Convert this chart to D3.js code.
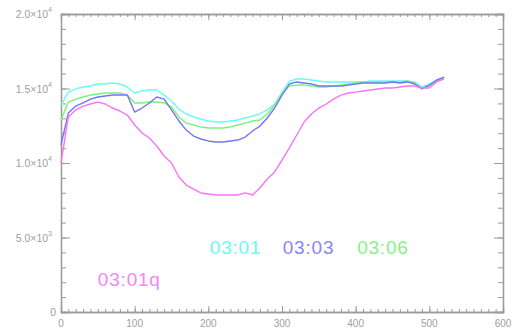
<!DOCTYPE html>
<html>
<head>
<meta charset="utf-8">
<script src="https://cdn.jsdelivr.net/npm/d3@7"></script>
<style>
  html, body { margin: 0; padding: 0; background: #fff; }
  svg { display: block; }
  text { font-family: "Liberation Sans", "DejaVu Sans", sans-serif; }
</style>
</head>
<body>
<div id="chart"></div>
<script>
// sample positions shared by every curve
const xs = [0, 10, 20, 30, 40, 50, 60, 70, 80, 90, 100, 110, 120, 130, 140, 150, 160, 170, 180, 190,
  200, 210, 220, 230, 240, 250, 260, 270, 280, 290, 300, 310, 320, 330, 340, 350, 360, 370, 380, 390,
  400, 410, 420, 430, 440, 450, 460, 470, 480, 490, 500, 510, 520];

const cyan0301 = [13890, 14760, 14970, 15100, 15170, 15300, 15300, 15370, 15300, 15100,
  14700, 14830, 14900, 14900, 14560, 14160, 13620, 13290, 13090, 12950,
  12820, 12750, 12750, 12820, 12890, 13020, 13150, 13290, 13560, 13960,
  14760, 15500, 15640, 15640, 15570, 15500, 15440, 15440, 15440, 15440,
  15440, 15440, 15500, 15500, 15500, 15500, 15500, 15500, 15440, 15100,
  15300, 15570, 15700];

const blue0303 = [11210, 13360, 13820, 14030, 14290, 14430, 14500, 14560, 14560, 14560,
  13420, 13690, 14030, 14430, 14290, 13560, 12820, 12210, 11810, 11610,
  11480, 11410, 11410, 11480, 11540, 11740, 12150, 12480, 13020, 13690,
  14560, 15300, 15440, 15370, 15300, 15170, 15170, 15170, 15170, 15230,
  15300, 15370, 15370, 15370, 15370, 15440, 15370, 15440, 15300, 14970,
  15230, 15570, 15770];

const green0306 = [12890, 14090, 14290, 14430, 14560, 14630, 14700, 14700, 14700, 14560,
  14030, 14030, 14090, 14090, 14030, 13760, 13090, 12680, 12550, 12420,
  12350, 12350, 12350, 12420, 12550, 12680, 12820, 12890, 13290, 13890,
  14630, 15170, 15230, 15230, 15170, 15100, 15100, 15170, 15230, 15300,
  15370, 15440, 15440, 15440, 15440, 15440, 15440, 15500, 15370, 15030,
  15170, 15500, 15640];

const magenta0301q = [10000, 13090, 13560, 13820, 13960, 14090, 13960, 13690, 13490, 13220,
  12550, 12010, 11680, 11140, 10470, 10000, 9060, 8520, 8250, 7990,
  7920, 7850, 7850, 7850, 7850, 7990, 7850, 8320, 8930, 9400,
  10200, 11010, 11880, 12750, 13290, 13690, 13960, 14290, 14560, 14700,
  14760, 14830, 14900, 14970, 15030, 15030, 15100, 15170, 15170, 15030,
  15030, 15440, 15640];

const seriesColors = ["#6af8f8", "#78f278", "#7474f6", "#f674f6"];
const seriesValues = [cyan0301, green0306, blue0303, magenta0301q];

const xTickValues = [0, 100, 200, 300, 400, 500, 600];
const yTickValues = [0, 5000, 10000, 15000, 20000];
const yTickMantissa = ["0", "5.0", "1.0", "1.5", "2.0"];
const yTickExponent = ["", "3", "4", "4", "4"];

// run labels, placed at data coords of their left baseline
const labelText = ["03:01", "03:03", "03:06", "03:01q"];
const labelColor = ["#6af8f8", "#8585f6", "#85f285", "#f685f6"];
const labelX = [202, 301, 402, 50];
const labelY = [3920, 3920, 3920, 1750];

const W = 512, H = 331;
const margin = { top: 14, right: 9, bottom: 19, left: 61 };
const width = W - margin.left - margin.right;
const height = H - margin.top - margin.bottom;
const axisColor = "#9a9a9a";

const svg = d3.select("#chart").append("svg")
  .attr("width", W)
  .attr("height", H);

const g = svg.append("g")
  .attr("transform", `translate(${margin.left},${margin.top})`);

const x = d3.scaleLinear().domain([0, 600]).range([0, width]);
const y = d3.scaleLinear().domain([0, 20000]).range([height, 0]);

// frame ticks: majors + minors on all four sides, pointing inward
const xMinor = x.ticks(60);
const yMinor = y.ticks(20);

function styleAxis(sel) {
  sel.select(".domain").attr("stroke", axisColor).attr("stroke-width", 1.3);
  sel.selectAll(".tick line").attr("stroke", axisColor);
}

// minor ticks
g.append("g").attr("transform", `translate(0,${height})`)
  .call(d3.axisTop(x).tickValues(xMinor).tickSize(3).tickFormat(""))
  .call(styleAxis);
g.append("g")
  .call(d3.axisBottom(x).tickValues(xMinor).tickSize(3).tickFormat(""))
  .call(styleAxis);
g.append("g")
  .call(d3.axisRight(y).tickValues(yMinor).tickSize(5).tickFormat(""))
  .call(styleAxis);
g.append("g").attr("transform", `translate(${width},0)`)
  .call(d3.axisLeft(y).tickValues(yMinor).tickSize(5).tickFormat(""))
  .call(styleAxis);

// major ticks
g.append("g").attr("transform", `translate(0,${height})`)
  .call(d3.axisTop(x).tickValues(xTickValues).tickSize(6).tickFormat(""))
  .call(styleAxis);
g.append("g")
  .call(d3.axisBottom(x).tickValues(xTickValues).tickSize(6).tickFormat(""))
  .call(styleAxis);
g.append("g")
  .call(d3.axisRight(y).tickValues(yTickValues).tickSize(9).tickFormat(""))
  .call(styleAxis);
g.append("g").attr("transform", `translate(${width},0)`)
  .call(d3.axisLeft(y).tickValues(yTickValues).tickSize(9).tickFormat(""))
  .call(styleAxis);

// x tick labels
g.selectAll(".xlab").data(xTickValues).enter().append("text")
  .attr("class", "xlab")
  .attr("x", d => x(d))
  .attr("y", height + 15)
  .attr("text-anchor", "middle")
  .attr("font-size", 10)
  .attr("fill", "#a0a0a0")
  .text(d => d);

// y tick labels like 1.5×10⁴
const ylab = g.selectAll(".ylab").data(yTickValues).enter().append("text")
  .attr("class", "ylab")
  .attr("x", (d, i) => yTickExponent[i] ? -9 : -5)
  .attr("y", d => y(d) + 4)
  .attr("text-anchor", "end")
  .attr("font-size", 10.5)
  .attr("fill", "#a0a0a0");
ylab.append("tspan").text((d, i) => yTickExponent[i] ? yTickMantissa[i] + "×10" : yTickMantissa[i]);
ylab.append("tspan")
  .attr("dy", -6)
  .attr("font-size", 7)
  .text((d, i) => yTickExponent[i]);

// curves
const line = d3.line()
  .x(d => x(d[0]))
  .y(d => y(d[1]));

seriesValues.forEach((vals, i) => {
  g.append("path")
    .datum(xs.map((xv, j) => [xv, vals[j]]))
    .attr("fill", "none")
    .attr("stroke", seriesColors[i])
    .attr("stroke-width", 1.4)
    .attr("stroke-linejoin", "round")
    .attr("d", line);
});

// run labels
g.selectAll(".runlab").data(labelText).enter().append("text")
  .attr("class", "runlab")
  .attr("x", (d, i) => x(labelX[i]))
  .attr("y", (d, i) => y(labelY[i]))
  .attr("font-size", 19)
  .attr("letter-spacing", 0.8)
  .attr("fill", (d, i) => labelColor[i])
  .text(d => d);
</script>
</body>
</html>
